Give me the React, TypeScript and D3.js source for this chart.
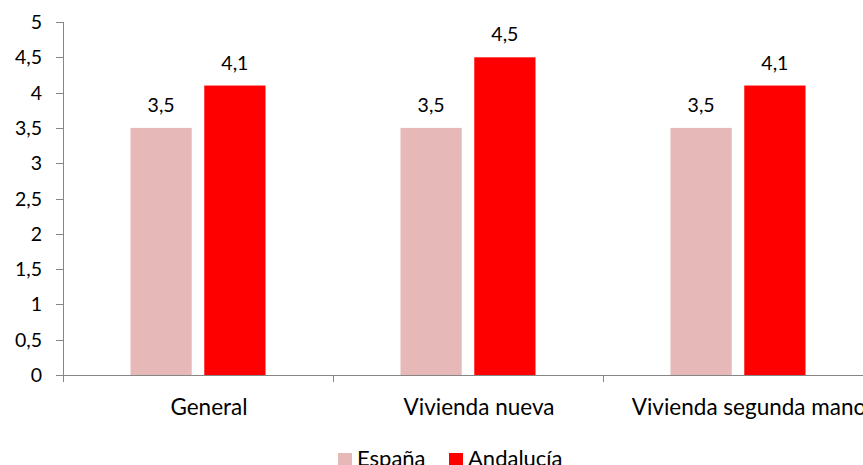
import React from "react";
import * as d3 from "d3";

const categories = ["General", "Vivienda nueva", "Vivienda segunda mano"];
const seriesNames = ["España", "Andalucía"];
const espana = [3.5, 3.5, 3.5];
const andalucia = [4.1, 4.5, 4.1];
const yTicks = [0, 0.5, 1, 1.5, 2, 2.5, 3, 3.5, 4, 4.5, 5];
const colors = ["#E6B9B8", "#FF0000"];

const W = 863;
const H = 465;
const left = 63;
const right = 873;
const top = 22;
const bottom = 375;
const font = "Lato, 'Open Sans', sans-serif";
const fmt = (v: number) => String(v).replace(".", ",");

export default function App() {
  const x = d3.scaleBand<string>().domain(categories).range([left, right]).paddingInner(0).paddingOuter(0);
  const y = d3.scaleLinear().domain([0, 5]).range([bottom, top]);
  const inner = d3.scaleBand<string>().domain(seriesNames).range([0, 135]).paddingInner(0.17).paddingOuter(0);
  const offset = (x.bandwidth() - 135) / 2;
  const series = [espana, andalucia];
  return (
    <svg width={W} height={H} style={{ position: "absolute", left: 0, top: 0, background: "#fff" }} fontFamily={font}>
      {/* y axis */}
      <line x1={left + 0.5} x2={left + 0.5} y1={top} y2={bottom} stroke="#868686" />
      {yTicks.map((t) => (
        <g key={t}>
          <line x1={left - 7} x2={left} y1={Math.round(y(t)) + 0.5} y2={Math.round(y(t)) + 0.5} stroke="#868686" />
          <text x={42} y={y(t)} dy="0.36em" textAnchor="end" fontSize={19.5} fill="#000">{fmt(t)}</text>
        </g>
      ))}
      {/* x axis */}
      <line x1={left} x2={W} y1={bottom + 0.5} y2={bottom + 0.5} stroke="#868686" />
      {[...categories.map((c) => x(c)!), right].map((v, i) => (
        <line key={i} x1={v + 0.5} x2={v + 0.5} y1={bottom} y2={bottom + 7} stroke="#868686" />
      ))}
      {categories.map((c) => (
        <text key={c} x={x(c)! + x.bandwidth() / 2 + 11} y={415} textAnchor="middle" fontSize={22.5} fill="#000">{c}</text>
      ))}
      {/* bars */}
      {series.map((vals, si) =>
        vals.map((v, ci) => {
          const bx = x(categories[ci])! + offset + inner(seriesNames[si])!;
          return (
            <g key={`${si}-${ci}`}>
              <rect x={bx} y={y(v)} width={inner.bandwidth()} height={bottom - y(v)} fill={colors[si]} />
              <text x={bx + inner.bandwidth() / 2} y={y(v) - 16} textAnchor="middle" fontSize={19.5} fill="#000">{fmt(v)}</text>
            </g>
          );
        })
      )}
      {/* legend */}
      {seriesNames.map((s, i) => {
        const lx = [338, 449][i];
        return (
          <g key={s}>
            <rect x={lx} y={453} width={14} height={14} fill={colors[i]} />
            <text x={lx + 19} y={466} fontSize={22} fill="#000">{s}</text>
          </g>
        );
      })}
    </svg>
  );
}
